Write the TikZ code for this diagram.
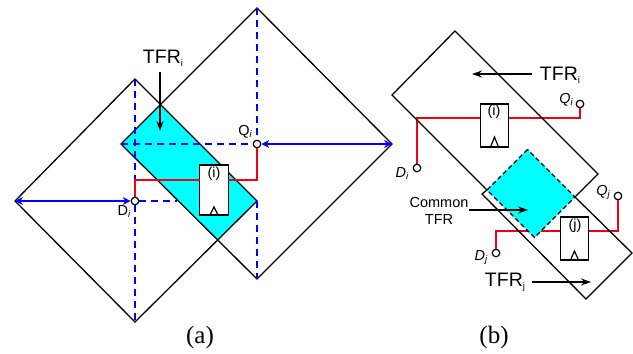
\documentclass[tikz,border=0pt]{standalone}
\usepackage{fontspec}
\setmainfont{Liberation Sans}
\newfontfamily\capfont{Liberation Serif}
\usetikzlibrary{arrows.meta}
\definecolor{tfrcyan}{RGB}{0,255,255}
\definecolor{tfrblue}{RGB}{0,0,255}
\definecolor{wirered}{RGB}{240,0,20}
\newcommand{\lowsub}[2]{\raisebox{-#1}{\fontsize{9.5}{10}\selectfont #2}}
\tikzset{
  edgeline/.style={draw=black,line width=1.3pt,line join=miter},
  dashedge/.style={draw=black,line width=1.3pt,dash pattern=on 4.5pt off 3pt},
  guide/.style={draw=tfrblue,line width=1.5pt,dash pattern=on 7pt off 5pt},
  dimarrow/.style={draw=tfrblue,line width=1.5pt,{Stealth[length=8pt,width=8pt]}-{Stealth[length=8pt,width=8pt]}},
  wire/.style={draw=wirered,line width=2pt},
  pinnode/.style={circle,draw=black,fill=white,line width=1.2pt,inner sep=0pt,minimum size=7.5pt},
  ffbox/.style={rectangle,draw=black,fill=white,line width=1.3pt,inner sep=0pt,minimum width=28.5pt,minimum height=43pt},
  pointer/.style={draw=black,line width=1.3pt,-{Stealth[length=10pt,width=7pt]}},
  clocktri/.style={draw=black,line width=1.2pt},
  biglabel/.style={inner sep=0pt,font=\fontsize{19.5}{21}\selectfont},
  smalllabel/.style={inner sep=0pt,font=\fontsize{14.5}{17}\selectfont},
  boxlabel/.style={inner sep=0pt,font=\fontsize{14.5}{16}\selectfont},
  caplabel/.style={inner sep=0pt,font=\fontsize{25}{27}\selectfont\capfont},
}
\begin{document}
\begin{tikzpicture}[x=1pt,y=-1pt]
\useasboundingbox (0,0) rectangle (633,354);
% ---------- panel (a)
\fill[tfrcyan] (160,105) -- (121,144) -- (217,240) -- (257,201) -- cycle;
\draw[edgeline] (257,8) -- (392,144) -- (257,279) -- (121,144) -- cycle;
\draw[edgeline] (135,79) -- (257,201) -- (135,322) -- (15,201) -- cycle;
\node[pinnode] (qa) at (257,144) {};
\node[pinnode] (da) at (135,201) {};
\coordinate (atop1) at (257,8);
\coordinate (abot1) at (257,279);
\coordinate (atop2) at (135,79);
\coordinate (abot2) at (135,322);
\coordinate (aleft) at (121,144);
\coordinate (aright) at (392,144);
\coordinate (afar) at (15,201);
\coordinate (acut) at (177,201);
\coordinate (amid) at (257,201);
\draw[guide] (atop1) -- (qa.north);
\draw[guide] (amid) -- (abot1);
\draw[guide] (aleft) -- (qa.west);
\draw[guide] (atop2) -- (da.north);
\draw[guide] (da.south) -- (abot2);
\draw[guide] (da.east) -- (acut);
\draw[dimarrow] (qa.east) -- (aright);
\draw[dimarrow] (afar) -- (da.west);
\node[ffbox,minimum height=50pt] (ffa) at (214,190) {};
\coordinate (ffain) at (199.75,180);
\coordinate (ffaout) at (228.25,180);
\draw[wire] (da.north) |- (ffain);
\draw[wire] (ffaout) -| (qa.south);
\node[boxlabel] (ffalab) at (214,174) {(i)};
\draw[clocktri] (210,215) -- (214,207) -- (218,215);
\node[biglabel] (tfra) at (163,58) {TFR\lowsub{3pt}{i}};
\coordinate (tfrastart) at (160,72);
\coordinate (tfraend) at (160,131);
\draw[pointer] (tfrastart) -- (tfraend);
\node[smalllabel] (qalab) at (245,132) {Q\lowsub{2pt}{\itshape i}};
\node[smalllabel] (dalab) at (124,212) {D\lowsub{2pt}{\itshape i}};
\node[caplabel] (capa) at (200,337) {(a)};
% ---------- panel (b)
\node[pinnode] (qbi) at (580,104) {};
\node[pinnode] (dbi) at (417,168) {};
\node[pinnode] (qbj) at (618,196) {};
\node[pinnode] (dbj) at (496,253) {};
\node[ffbox] (ffi) at (494.5,125.5) {};
\node[ffbox] (ffj) at (574.5,238.5) {};
\coordinate (ffiin) at (480.25,118);
\coordinate (ffiout) at (508.75,118);
\coordinate (ffjin) at (560.25,231);
\coordinate (ffjout) at (588.75,231);
\draw[wire] (dbi.north) |- (ffiin);
\draw[wire] (ffiout) -| (qbi.south);
\draw[wire] (dbj.north) |- (ffjin);
\draw[wire] (ffjout) -| (qbj.south);
\fill[tfrcyan] (527.5,149.5) -- (487,190) -- (534.5,237.5) -- (575,197) -- cycle;
\draw[edgeline] (487,190) -- (392,95) -- (455,31) -- (598,174) -- (575,197);
\draw[edgeline] (575,197) -- (632,253) -- (586,299) -- (482,194) -- (487,190);
\draw[dashedge] (527.5,149.5) -- (487,190) -- (534.5,237.5) -- (575,197) -- cycle;
\node[boxlabel] (ffilab) at (494,112) {(i)};
\node[boxlabel] (ffjlab) at (575,226) {(j)};
\draw[clocktri] (490.5,147) -- (494.5,137) -- (498.5,147);
\draw[clocktri] (570.5,260) -- (574.5,251) -- (578.5,260);
\node[biglabel] (tfrbi) at (560,75) {TFR\lowsub{3pt}{i}};
\coordinate (bistart) at (532,74);
\coordinate (biend) at (472,74);
\draw[pointer] (bistart) -- (biend);
\node[biglabel] (tfrbj) at (505,282) {TFR\lowsub{3pt}{j}};
\coordinate (bjstart) at (532,282);
\coordinate (bjend) at (591,282);
\draw[pointer] (bjstart) -- (bjend);
\node[smalllabel,align=center] (common) at (439,210.5) {Common\\TFR};
\coordinate (costart) at (469,210);
\coordinate (coend) at (528,210);
\draw[pointer] (costart) -- (coend);
\node[smalllabel] (qbilab) at (566,100) {\itshape Q\lowsub{2pt}{i}};
\node[smalllabel] (dbilab) at (402,174) {\itshape D\lowsub{2pt}{i}};
\node[smalllabel] (qbjlab) at (603,192) {\itshape Q\lowsub{2pt}{j}};
\node[smalllabel] (dbjlab) at (481,257) {\itshape D\lowsub{2pt}{j}};
\node[caplabel] (capb) at (494,337) {(b)};
\end{tikzpicture}
\end{document}
